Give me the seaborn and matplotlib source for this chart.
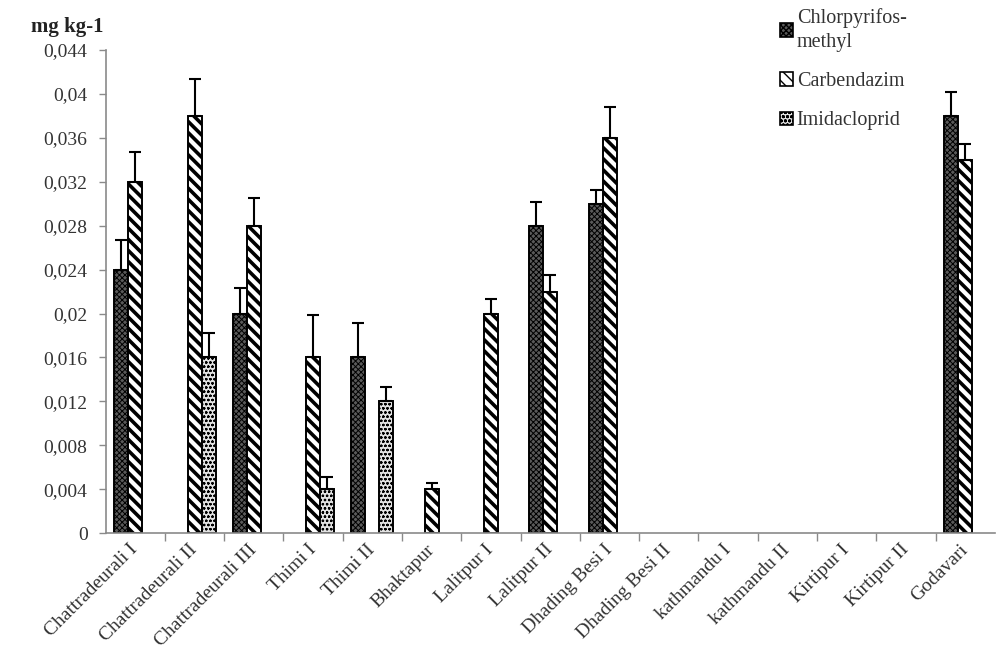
import numpy as np
import pandas as pd
import matplotlib
matplotlib.use("Agg")
import matplotlib.pyplot as plt
from matplotlib.patches import Patch
from matplotlib.ticker import FuncFormatter, FixedLocator
import seaborn as sns

# Sampling sites
sites = ["Chattradeurali I", "Chattradeurali II", "Chattradeurali III", "Thimi I",
         "Thimi II", "Bhaktapur", "Lalitpur I", "Lalitpur II", "Dhading Besi I",
         "Dhading Besi II", "kathmandu I", "kathmandu II", "Kirtipur I",
         "Kirtipur II", "Godavari"]

pesticides = ["Chlorpyrifos-\nmethyl", "Carbendazim", "Imidacloprid"]

# Residue means (mg kg-1)
chlorpyrifos = [0.024, 0, 0.020, 0, 0.016, 0, 0, 0.028, 0.030, 0, 0, 0, 0, 0, 0.038]
carbendazim = [0.032, 0.038, 0.028, 0.016, 0, 0.004, 0.020, 0.022, 0.036, 0, 0, 0, 0, 0, 0.034]
imidacloprid = [0, 0.016, 0, 0.004, 0.012, 0, 0, 0, 0, 0, 0, 0, 0, 0, 0]

# Standard deviations (upper error bars)
chlorpyrifos_sd = [0.0027, 0, 0.0023, 0, 0.0031, 0, 0, 0.0022, 0.0013, 0, 0, 0, 0, 0, 0.0022]
carbendazim_sd = [0.0027, 0.0034, 0.0025, 0.0039, 0, 0.0006, 0.0013, 0.0015, 0.0028, 0, 0, 0, 0, 0, 0.0014]
imidacloprid_sd = [0, 0.0022, 0, 0.0011, 0.0013, 0, 0, 0, 0, 0, 0, 0, 0, 0, 0]

yticks = [0, 0.004, 0.008, 0.012, 0.016, 0.02, 0.024, 0.028, 0.032, 0.036, 0.04, 0.044]

sns.set_theme(style="white")
plt.rcParams["font.family"] = ["Liberation Serif", "DejaVu Serif"]
plt.rcParams["hatch.linewidth"] = 1.0

df = pd.DataFrame({
    "site": sites * 3,
    "pesticide": np.repeat(pesticides, len(sites)),
    "value": chlorpyrifos + carbendazim + imidacloprid,
})
errors = [chlorpyrifos_sd, carbendazim_sd, imidacloprid_sd]

styles = [
    dict(facecolor="#5a5a5a", hatch="xxxxxx", hlw=0.7),
    dict(facecolor="white", hatch="\\\\\\", hlw=2.6),
    dict(facecolor="#e2e2e2", hatch="oooo", hlw=0.6),
]

fig = plt.figure(figsize=(10.06, 6.59), dpi=100)
ax = fig.add_axes([0.105, 0.191, 0.884, 0.733])

sns.barplot(data=df, x="site", y="value", hue="pesticide", order=sites,
            hue_order=pesticides, width=0.71, gap=0, errorbar=None,
            palette=[s["facecolor"] for s in styles], edgecolor="black",
            linewidth=1.4, saturation=1, legend=False, ax=ax)

for cont, st, err in zip(ax.containers, styles, errors):
    xs, ys, es = [], [], []
    for bar, e in zip(cont, err):
        h = bar.get_height()
        if h <= 0:
            bar.set_visible(False)
            continue
        bar.set_facecolor(st["facecolor"])
        bar.set_hatch(st["hatch"])
        if hasattr(bar, "set_hatch_linewidth"):
            bar.set_hatch_linewidth(st["hlw"])
        xs.append(bar.get_x() + bar.get_width() / 2)
        ys.append(h)
        es.append(e)
    ax.errorbar(xs, ys, yerr=[np.zeros(len(es)), es], fmt="none",
                ecolor="black", elinewidth=1.5, capsize=4.5, capthick=1.5,
                zorder=3)

ax.set_xlim(-0.5, len(sites) - 0.5)
ax.set_ylim(0, 0.044)
ax.yaxis.set_major_locator(FixedLocator(yticks))
ax.yaxis.set_major_formatter(FuncFormatter(
    lambda v, p: ("%.3f" % v).rstrip("0").rstrip(".").replace(".", ",")))

ax.set_xlabel("")
ax.set_ylabel("")
ax.tick_params(axis="y", which="major", left=True, length=5, width=1,
               color="#8a8a8a", labelsize=14, pad=8, labelcolor="#333333")
ax.tick_params(axis="x", which="major", bottom=False, length=0, labelsize=14,
               labelcolor="#333333", pad=10)
ax.xaxis.set_minor_locator(FixedLocator(np.arange(0.5, len(sites) - 1, 1.0)))
ax.tick_params(axis="x", which="minor", bottom=True, length=6, width=1,
               color="#8a8a8a")
for lab in ax.get_xticklabels():
    lab.set_rotation(45)
    lab.set_ha("right")
    lab.set_va("center")
    lab.set_rotation_mode("anchor")

for side in ["top", "right"]:
    ax.spines[side].set_visible(False)
for side in ["left", "bottom"]:
    ax.spines[side].set_color("#8a8a8a")
    ax.spines[side].set_linewidth(1.2)

fig.text(0.031, 0.959, "mg kg-1", fontsize=15, fontweight="bold",
         ha="left", va="center", color="#222222")

handles = []
for st in styles:
    p = Patch(facecolor=st["facecolor"], edgecolor="black", hatch=st["hatch"],
              linewidth=1.2)
    handles.append(p)
leg = fig.legend(handles, pesticides, loc="upper left",
                 bbox_to_anchor=(0.757, 1.015), frameon=False, fontsize=14.5,
                 handlelength=0.65, handleheight=0.65, handletextpad=0.2,
                 labelspacing=1.0, labelcolor="#333333")
for t in leg.get_texts():
    t.set_linespacing(1.35)

fig.savefig("out.png", dpi=100, facecolor="white")
